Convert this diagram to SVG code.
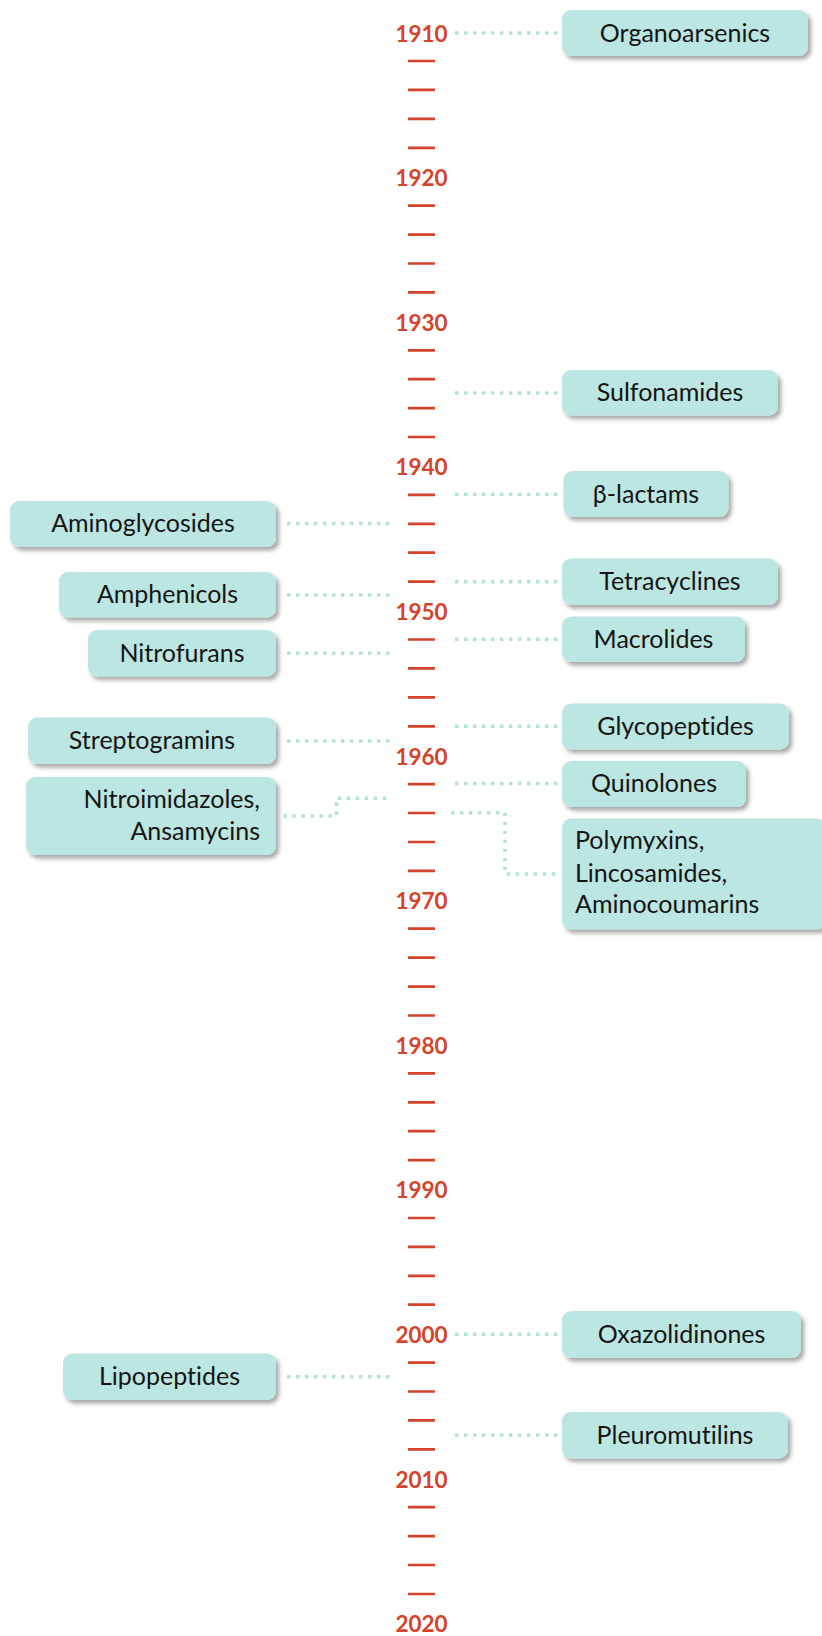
<svg xmlns="http://www.w3.org/2000/svg" width="822" height="1636" viewBox="0 0 822 1636">
<defs>
<filter id="sh" x="-10%" y="-20%" width="130%" height="160%">
<feDropShadow dx="3" dy="3.5" stdDeviation="2" flood-color="#000" flood-opacity="0.35"/>
</filter>
</defs>
<style>
.box{fill:#bce6e1;filter:url(#sh)}
.lbl{font-family:Lato,"Open Sans",sans-serif;font-size:25px;fill:#151515;font-variant-ligatures:none;font-feature-settings:"liga" 0,"dlig" 0}
.c{text-anchor:middle}
.r{text-anchor:end}
.yr{font-family:Lato,"Liberation Sans",sans-serif;font-weight:bold;font-size:22.5px;fill:#d5442a;text-anchor:middle}
.tick{stroke:#d5442a;stroke-width:2.7;fill:none}
.con{stroke:#b0e1da;stroke-width:3.5;stroke-dasharray:3.4 5.6;fill:none}
</style>
<g id="axis">
<path class="tick" d="M408,61H435M408,89.9H435M408,118.9H435M408,147.8H435M408,205.6H435M408,234.6H435M408,263.5H435M408,292.4H435M408,350.3H435M408,379.2H435M408,408.1H435M408,437H435M408,494.9H435M408,523.8H435M408,552.7H435M408,581.6H435M408,639.5H435M408,668.4H435M408,697.3H435M408,726.3H435M408,784.1H435M408,813H435M408,842H435M408,870.9H435M408,928.7H435M408,957.7H435M408,986.6H435M408,1015.5H435M408,1073.3H435M408,1102.3H435M408,1131.2H435M408,1160.1H435M408,1218H435M408,1246.9H435M408,1275.8H435M408,1304.7H435M408,1362.6H435M408,1391.5H435M408,1420.4H435M408,1449.3H435M408,1507.2H435M408,1536.1H435M408,1565H435M408,1594H435"/>
<text class="yr" x="421.5" y="41.5">1910</text>
<text class="yr" x="421.5" y="186.1">1920</text>
<text class="yr" x="421.5" y="330.7">1930</text>
<text class="yr" x="421.5" y="475.3">1940</text>
<text class="yr" x="421.5" y="620">1950</text>
<text class="yr" x="421.5" y="764.6">1960</text>
<text class="yr" x="421.5" y="909.2">1970</text>
<text class="yr" x="421.5" y="1053.8">1980</text>
<text class="yr" x="421.5" y="1198.4">1990</text>
<text class="yr" x="421.5" y="1343">2000</text>
<text class="yr" x="421.5" y="1487.7">2010</text>
<text class="yr" x="421.5" y="1632.3">2020</text>
</g>
<g id="connectors">
<path class="con" d="M455,33H558"/>
<path class="con" d="M455,393H558"/>
<path class="con" d="M455,494.5H558"/>
<path class="con" d="M455,581.7H558"/>
<path class="con" d="M455,639.3H558"/>
<path class="con" d="M455,726.3H558"/>
<path class="con" d="M455,783.5H558"/>
<path class="con" d="M451,812.7H505V874H557"/>
<path class="con" d="M455,1334.3H558"/>
<path class="con" d="M455,1435.3H558"/>
<path class="con" d="M287,523.5H390"/>
<path class="con" d="M287,595H390"/>
<path class="con" d="M287,653.3H390"/>
<path class="con" d="M287,741H390"/>
<path class="con" d="M283.5,816H336.5V798.3H388"/>
<path class="con" d="M287,1376.7H390"/>
</g>
<g id="organoarsenics"><rect class="box" x="562" y="10" width="246" height="46" rx="9"/><text class="lbl c" x="685" y="41.5">Organoarsenics</text></g>
<g id="sulfonamides"><rect class="box" x="562" y="370" width="216" height="45.5" rx="9"/><text class="lbl c" x="670" y="401">Sulfonamides</text></g>
<g id="beta-lactams"><rect class="box" x="563.5" y="471" width="165" height="46" rx="9"/><text class="lbl c" x="646" y="502.5">β-lactams</text></g>
<g id="tetracyclines"><rect class="box" x="562" y="558.5" width="216" height="46.5" rx="9"/><text class="lbl c" x="670" y="590">Tetracyclines</text></g>
<g id="macrolides"><rect class="box" x="562" y="616.5" width="183" height="45.5" rx="9"/><text class="lbl c" x="653.5" y="647.5">Macrolides</text></g>
<g id="glycopeptides"><rect class="box" x="562" y="703.5" width="227" height="46" rx="9"/><text class="lbl c" x="675.5" y="734.8">Glycopeptides</text></g>
<g id="quinolones"><rect class="box" x="562" y="761" width="184" height="46" rx="9"/><text class="lbl c" x="654" y="792.3">Quinolones</text></g>
<g id="polymyxins"><rect class="box" x="562" y="818.5" width="264" height="111" rx="9"/><text class="lbl" x="575" y="849">Polymyxins,</text><text class="lbl" x="575" y="881.5">Lincosamides,</text><text class="lbl" x="575" y="913">Aminocoumarins</text></g>
<g id="oxazolidinones"><rect class="box" x="562" y="1311" width="239" height="47" rx="9"/><text class="lbl c" x="681.5" y="1343">Oxazolidinones</text></g>
<g id="pleuromutilins"><rect class="box" x="562" y="1412" width="226" height="46.5" rx="9"/><text class="lbl c" x="675" y="1443.5">Pleuromutilins</text></g>
<g id="aminoglycosides"><rect class="box" x="10" y="501" width="266" height="46" rx="9"/><text class="lbl c" x="143" y="532.3">Aminoglycosides</text></g>
<g id="amphenicols"><rect class="box" x="59" y="572" width="217" height="45.5" rx="9"/><text class="lbl c" x="167.5" y="603">Amphenicols</text></g>
<g id="nitrofurans"><rect class="box" x="88" y="630" width="188" height="46.5" rx="9"/><text class="lbl c" x="182" y="661.5">Nitrofurans</text></g>
<g id="streptogramins"><rect class="box" x="28" y="717.5" width="248" height="46.5" rx="9"/><text class="lbl c" x="152" y="749">Streptogramins</text></g>
<g id="nitroimidazoles"><rect class="box" x="26" y="777" width="250" height="78" rx="9"/><text class="lbl r" x="260" y="808">Nitroimidazoles,</text><text class="lbl r" x="260" y="839.5">Ansamycins</text></g>
<g id="lipopeptides"><rect class="box" x="63" y="1353.5" width="213" height="46.5" rx="9"/><text class="lbl c" x="169.5" y="1385">Lipopeptides</text></g>
</svg>
